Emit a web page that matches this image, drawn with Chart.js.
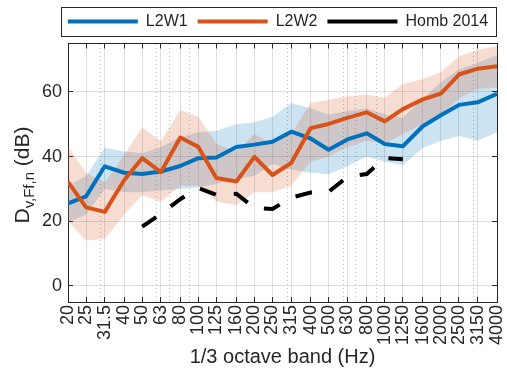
<!DOCTYPE html>
<html>
<head>
<meta charset="utf-8">
<script src="https://cdn.jsdelivr.net/npm/chart.js@4.4.1/dist/chart.umd.min.js"></script>
<style>
  html, body { margin: 0; padding: 0; background: #fff; }
</style>
</head>
<body>
<canvas id="chart" width="507" height="371"></canvas>
<script>
// 1/3 octave bands (Hz)
const bandLabels = ['20','25','31.5','40','50','63','80','100','125','160','200','250','315',
                    '400','500','630','800','1000','1250','1600','2000','2500','3150','4000'];
const bandFreqs  = [20,25,31.5,40,50,63,80,100,125,160,200,250,315,
                    400,500,630,800,1000,1250,1600,2000,2500,3150,4000];
const minorFreqs = [30,60,70,90,300,600,700,900,3000];
const yTicks     = [0,20,40,60];

// mean curves (dB)
const l2w1 = [25.5,27.7,37.0,35.0,34.6,35.4,37.1,39.5,39.7,43.0,43.7,44.6,47.7,
              45.6,42.1,45.3,47.2,43.9,43.2,49.4,52.8,56.0,56.8,59.4];
const l2w2 = [32.2,24.3,22.9,32.7,39.5,35.2,45.9,43.0,33.4,32.3,39.9,34.3,38.0,
              48.8,50.1,52.0,53.7,50.9,54.7,57.7,59.5,65.4,67.2,68.0];
const homb = [null,null,null,null,18.3,22.3,26.8,30.3,28.2,28.5,24.1,23.8,27.3,
              28.9,29.1,33.7,34.6,39.6,39.2,null,null,null,null,null];

// spread bands (dB)
const l2w1Hi = [31,34,42.7,41.6,41,43,46,47.5,48,50,50.6,52.3,56.6,
                55,53,54,55,53,52,58,63,67,69,71.5];
const l2w1Lo = [19.7,22,30,29,29,29.5,30,30.5,31.5,33,34,37.8,36,
                35,34.5,37,40,38.4,37.3,42.7,44.8,46.4,45,47.5];
const l2w2Hi = [43.2,35,32,40.5,49,44.8,54.4,52.3,44,41.5,47,44,47,
                56.6,57.5,58.7,59.2,58.2,62.4,64,66.2,71,73,74.2];
const l2w2Lo = [20,14,14.5,22,28,26,31,31,26,25,29,29,31,
                38.4,40,43,45,44,47,50,53,58,61,61.4];

const BLUE   = '#0072BD';
const ORANGE = '#D95319';
const TXT    = '#262626';
const GRID   = 'rgba(38,38,38,0.15)';
const MINOR  = 'rgba(38,38,38,0.3)';
const FONT   = '"Liberation Sans", Arial, Helvetica, sans-serif';

Chart.defaults.font.family = FONT;
Chart.defaults.color = TXT;

const pts = arr => bandFreqs.map((f, i) => ({ x: f, y: arr[i] }));
const setTicks = vals => s => { s.ticks = vals.map(v => ({ value: v })); };

// frame around the legend, like the boxed legend of the original
const legendFrame = {
  id: 'legendFrame',
  afterDraw(chart) {
    const hb = chart.legend.legendHitBoxes;
    if (!hb.length) return;
    const first = hb[0], last = hb[hb.length - 1];
    const cy = first.top + first.height / 2;
    const ctx = chart.ctx;
    ctx.save();
    ctx.strokeStyle = TXT;
    ctx.lineWidth = 1;
    const x0 = Math.round(first.left - 7) + 0.5;
    const x1 = Math.round(last.left + last.width + 8) + 0.5;
    ctx.strokeRect(x0, Math.round(cy - 14.5) + 0.5, x1 - x0, 29);
    ctx.restore();
  }
};

// y title with subscript: D_{v,Ff,n} (dB)
const yTitle = {
  id: 'yTitle',
  afterDraw(chart) {
    const ctx = chart.ctx;
    const big = '21px ' + FONT, small = '15px ' + FONT;
    ctx.save();
    ctx.font = big;   const wD = ctx.measureText('D').width;
    const wR = ctx.measureText(' (dB)').width;
    ctx.font = small; const wS = ctx.measureText('v,Ff,n').width;
    const total = wD + wS + wR;
    ctx.translate(29, 175 + total / 2);
    ctx.rotate(-Math.PI / 2);
    ctx.fillStyle = TXT;
    ctx.textBaseline = 'alphabetic';
    ctx.textAlign = 'left';
    ctx.font = big;   ctx.fillText('D', 0, 0);
    ctx.font = small; ctx.fillText('v,Ff,n', wD, 5);
    ctx.font = big;   ctx.fillText(' (dB)', wD + wS, 0);
    ctx.restore();
  }
};

new Chart(document.getElementById('chart'), {
  type: 'line',
  data: {
    datasets: [
      { label: 'L2W1', data: pts(l2w1), xAxisID: 'x', yAxisID: 'y', order: 2,
        borderColor: BLUE, backgroundColor: BLUE, borderWidth: 4, pointRadius: 0, fill: false,
        borderJoinStyle: 'round' },
      { label: 'L2W2', data: pts(l2w2), xAxisID: 'x', yAxisID: 'y', order: 1,
        borderColor: ORANGE, backgroundColor: ORANGE, borderWidth: 4, pointRadius: 0, fill: false,
        borderJoinStyle: 'round' },
      { label: 'Homb 2014', data: pts(homb), xAxisID: 'x', yAxisID: 'y', order: 0,
        borderColor: '#000', backgroundColor: '#000', borderWidth: 4, borderDash: [17, 18],
        pointRadius: 0, fill: false, spanGaps: false },
      { label: 'L2W1 hi', data: pts(l2w1Hi), xAxisID: 'x', yAxisID: 'y', order: 6,
        borderWidth: 0, pointRadius: 0, backgroundColor: 'rgba(0,114,189,0.2)', fill: '+1' },
      { label: 'L2W1 lo', data: pts(l2w1Lo), xAxisID: 'x', yAxisID: 'y', order: 6,
        borderWidth: 0, pointRadius: 0, fill: false },
      { label: 'L2W2 hi', data: pts(l2w2Hi), xAxisID: 'x', yAxisID: 'y', order: 5,
        borderWidth: 0, pointRadius: 0, backgroundColor: 'rgba(217,83,25,0.2)', fill: '+1' },
      { label: 'L2W2 lo', data: pts(l2w2Lo), xAxisID: 'x', yAxisID: 'y', order: 5,
        borderWidth: 0, pointRadius: 0, fill: false },
    ],
  },
  options: {
    responsive: false,
    animation: false,
    devicePixelRatio: 1,
    // left/right offsets keep the legend centred over the axes, as in the original
    layout: { padding: { top: 3.5, left: 36, right: -13, bottom: 0 } },
    plugins: {
      tooltip: { enabled: false },
      legend: {
        position: 'top',
        maxHeight: 44.5,
        labels: {
          usePointStyle: true,
          pointStyle: 'line',
          pointStyleWidth: 70,
          padding: 10,
          color: TXT,
          font: { size: 16, family: FONT },
          filter: item => item.datasetIndex < 3,
          sort: (a, b) => a.datasetIndex - b.datasetIndex,
        },
      },
    },
    scales: {
      x: {
        type: 'logarithmic', position: 'bottom', min: 20, max: 4000,
        afterBuildTicks: setTicks(bandFreqs),
        afterFit: s => { s.height = 69; s.paddingLeft = 0; s.paddingRight = 0; },
        ticks: {
          autoSkip: false, minRotation: 90, maxRotation: 90, padding: 8,
          color: TXT, font: { size: 18 },
          callback: (v, i) => bandLabels[i],
        },
        grid: { color: GRID, tickLength: -5, tickColor: TXT },
        border: { color: TXT },
        title: { display: true, text: '1/3 octave band (Hz)', color: TXT,
                 font: { size: 20 }, padding: { top: 0, bottom: 2 } },
      },
      xTop: {
        type: 'logarithmic', position: 'top', min: 20, max: 4000,
        afterBuildTicks: setTicks(bandFreqs),
        afterFit: s => { s.height = 4; s.paddingLeft = 0; s.paddingRight = 0; },
        ticks: { display: false },
        grid: { drawOnChartArea: false, tickLength: -5, tickColor: TXT },
        border: { color: TXT },
      },
      xMinor: {
        type: 'logarithmic', position: 'top', min: 20, max: 4000,
        afterBuildTicks: setTicks(minorFreqs),
        afterFit: s => { s.height = 0; s.paddingLeft = 0; s.paddingRight = 0; },
        ticks: { display: false },
        grid: { color: MINOR, drawTicks: false },
        border: { display: false, dash: [1, 3] },
      },
      y: {
        position: 'left', min: -5, max: 75,
        afterBuildTicks: setTicks(yTicks),
        afterFit: s => { s.width = 32; s.paddingTop = 0; s.paddingBottom = 0; },
        ticks: { padding: 11, color: TXT, font: { size: 18 } },
        grid: { color: GRID, tickLength: -5, tickColor: TXT },
        border: { color: TXT },
      },
      y2: {
        position: 'right', min: -5, max: 75,
        afterBuildTicks: setTicks(yTicks),
        afterFit: s => { s.width = 23; s.paddingTop = 0; s.paddingBottom = 0; },
        ticks: { display: false },
        grid: { drawOnChartArea: false, tickLength: -5, tickColor: TXT },
        border: { color: TXT },
      },
    },
  },
  plugins: [legendFrame, yTitle],
});
</script>
</body>
</html>
